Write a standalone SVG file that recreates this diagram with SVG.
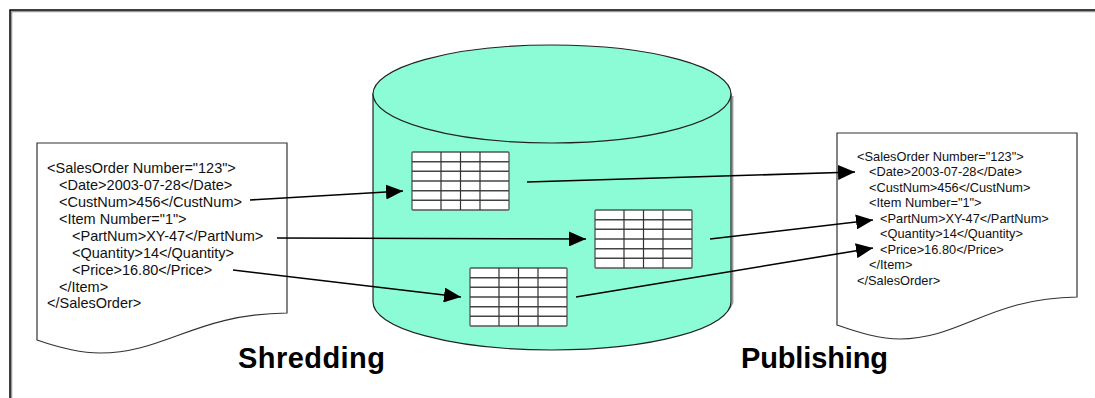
<svg xmlns="http://www.w3.org/2000/svg" width="1095" height="398" viewBox="0 0 1095 398">
<style>
.frame{fill:none;stroke:#000;stroke-width:1.5}
.frameshadow{fill:none;stroke:#999;stroke-width:1.5}
.doc{fill:#fff;stroke:#333;stroke-width:1.2}
.cyl{fill:#8cfcd6;stroke:#222;stroke-width:1.2}
.cylshadow{fill:none;stroke:#999;stroke-width:1.8}
.tbl{fill:#fff;stroke:#555;stroke-width:1.3}
.grid{stroke:#333;stroke-width:1.2}
.gridh{stroke:#444;stroke-width:1.5}
.xl{font-family:"Liberation Sans",Arial,sans-serif;font-size:14.5px;fill:#111}
.xr{font-family:"Liberation Sans",Arial,sans-serif;font-size:12.8px;fill:#111}
.lbl{font-family:"Liberation Sans",Arial,sans-serif;font-size:29px;font-weight:bold;fill:#000}
.conn{stroke:#000;stroke-width:1.6;fill:none;marker-end:url(#ah)}
</style>
<defs>
<marker id="ah" markerUnits="userSpaceOnUse" markerWidth="18" markerHeight="15" refX="17" refY="7.5" orient="auto">
<path d="M0,0 L17,7.5 L0,15 Z" fill="#000"/>
</marker>
<g id="tablegrid">
<rect class="tbl" x="0" y="0" width="97" height="58" rx="1"/>
<path class="gridh" d="M0,9.7H97M0,19.3H97M0,29H97M0,38.7H97M0,48.3H97"/>
<path class="grid" d="M29,0V58M48.5,0V58M68,0V58"/>
</g>
</defs>
<rect class="frameshadow" x="11.5" y="11.5" width="1100" height="400"/>
<rect class="frame" x="10" y="10" width="1100" height="400"/>

<g id="database">
<path class="cylshadow" d="M732.5,96 V303 A179,48 0 0 1 378,306"/>
<path class="cyl" d="M373,94 V302 A179,48 0 0 0 731,302 V94 Z"/>
<ellipse class="cyl" cx="552" cy="94" rx="179" ry="49"/>
</g>

<g id="table1"><use href="#tablegrid" x="412" y="152"/></g>
<g id="table2"><use href="#tablegrid" x="595" y="210"/></g>
<g id="table3"><use href="#tablegrid" x="470" y="268"/></g>

<g id="xml-in">
<path class="doc" d="M37,143 H287 V313 C195,314 165,353 100,353 C80,353 60,348 37,340 Z"/>
<text class="xl" x="47" y="173.2">&lt;SalesOrder Number="123"&gt;</text>
<text class="xl" x="59" y="190.1">&lt;Date&gt;2003-07-28&lt;/Date&gt;</text>
<text class="xl" x="59" y="207">&lt;CustNum&gt;456&lt;/CustNum&gt;</text>
<text class="xl" x="59" y="223.9">&lt;Item Number="1"&gt;</text>
<text class="xl" x="72" y="240.8">&lt;PartNum&gt;XY-47&lt;/PartNum&gt;</text>
<text class="xl" x="72" y="257.7">&lt;Quantity&gt;14&lt;/Quantity&gt;</text>
<text class="xl" x="72" y="274.6">&lt;Price&gt;16.80&lt;/Price&gt;</text>
<text class="xl" x="59" y="291.5">&lt;/Item&gt;</text>
<text class="xl" x="47" y="308.4">&lt;/SalesOrder&gt;</text>
</g>

<g id="xml-out">
<path class="doc" d="M837,133 H1077 V297 C990,298 960,339 900,339 C880,339 860,333 837,325 Z"/>
<text class="xr" x="857" y="160.6">&lt;SalesOrder Number="123"&gt;</text>
<text class="xr" x="869" y="176.1">&lt;Date&gt;2003-07-28&lt;/Date&gt;</text>
<text class="xr" x="869" y="191.6">&lt;CustNum&gt;456&lt;/CustNum&gt;</text>
<text class="xr" x="869" y="207.1">&lt;Item Number="1"&gt;</text>
<text class="xr" x="880" y="222.6">&lt;PartNum&gt;XY-47&lt;/PartNum&gt;</text>
<text class="xr" x="880" y="238.1">&lt;Quantity&gt;14&lt;/Quantity&gt;</text>
<text class="xr" x="880" y="253.6">&lt;Price&gt;16.80&lt;/Price&gt;</text>
<text class="xr" x="869" y="269.1">&lt;/Item&gt;</text>
<text class="xr" x="857" y="284.6">&lt;/SalesOrder&gt;</text>
</g>

<g id="connectors">
<line class="conn" x1="250" y1="200" x2="403" y2="191"/>
<line class="conn" x1="277" y1="238" x2="586" y2="239"/>
<line class="conn" x1="233" y1="270" x2="461" y2="297"/>
<line class="conn" x1="527" y1="182" x2="855" y2="172"/>
<line class="conn" x1="710" y1="239" x2="873" y2="220"/>
<line class="conn" x1="576" y1="297" x2="873" y2="248"/>
</g>

<g id="labels">
<text class="lbl" x="238" y="368" textLength="147">Shredding</text>
<text class="lbl" x="741" y="368" textLength="147">Publishing</text>
</g>
</svg>
